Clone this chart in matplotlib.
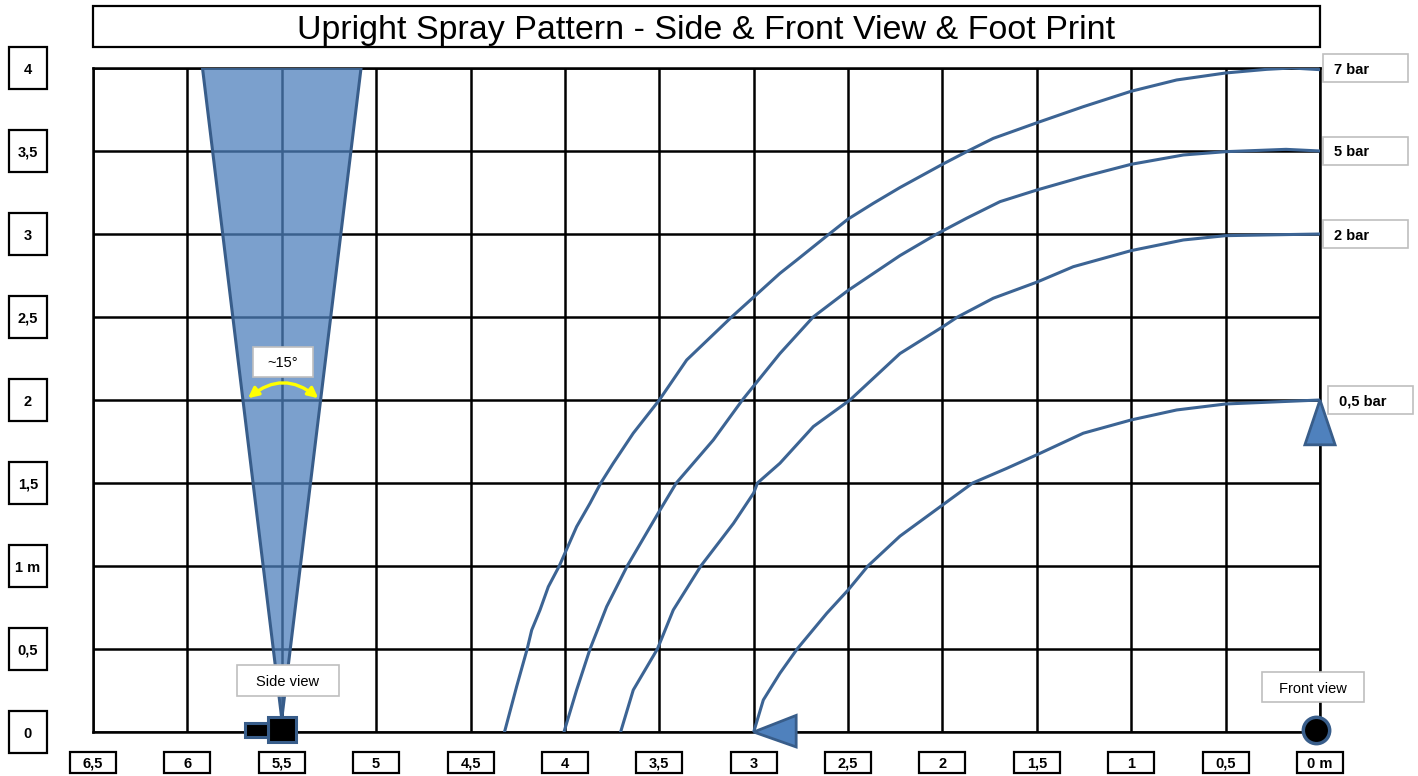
import matplotlib
matplotlib.use('Agg')
import matplotlib.pyplot as plt
from matplotlib.patches import Rectangle, Polygon, FancyArrowPatch
from matplotlib.transforms import blended_transform_factory

plt.rcParams['font.family'] = ['Liberation Sans', 'DejaVu Sans']

# ---------------- data ----------------
title = "Upright Spray Pattern - Side & Front View & Foot Print"

x_ticks = [6.5, 6.0, 5.5, 5.0, 4.5, 4.0, 3.5, 3.0, 2.5, 2.0, 1.5, 1.0, 0.5, 0.0]
x_tick_labels = ["6,5", "6", "5,5", "5", "4,5", "4", "3,5", "3", "2,5", "2", "1,5", "1", "0,5", "0 m"]
y_ticks = [0.0, 0.5, 1.0, 1.5, 2.0, 2.5, 3.0, 3.5, 4.0]
y_tick_labels = ["0", "0,5", "1 m", "1,5", "2", "2,5", "3", "3,5", "4"]

pressure_labels = ["7 bar", "5 bar", "2 bar", "0,5 bar"]
pressure_end_y = [4.0, 3.5, 3.0, 2.0]

bar7_x = [4.32, 4.256, 4.20, 4.176, 4.132, 4.088, 4.03, 3.938, 3.867, 3.81, 3.744, 3.638, 3.50,
          3.355, 3.117, 3.00, 2.861, 2.772, 2.60, 2.50, 2.366, 2.225, 2.00, 1.865,
          1.731, 1.50, 1.254, 1.00, 0.759, 0.50, 0.282, 0.15, 0.00]
bar7_y = [0.00, 0.273, 0.50, 0.614, 0.735, 0.875, 1.00, 1.237, 1.378, 1.50, 1.619, 1.80, 2.00,
          2.241, 2.50, 2.62, 2.763, 2.843, 3.00, 3.09, 3.185, 3.28, 3.42, 3.50,
          3.576, 3.67, 3.767, 3.86, 3.928, 3.97, 3.992, 4.00, 3.99]

bar5_x = [4.005, 3.938, 3.867, 3.779, 3.67, 3.50, 3.41, 3.214, 3.06, 2.861, 2.685, 2.50, 2.225,
          2.03, 1.872, 1.695, 1.50, 1.254, 1.00, 0.724, 0.50, 0.18, 0.00]
bar5_y = [0.00, 0.253, 0.50, 0.755, 1.00, 1.33, 1.50, 1.759, 2.00, 2.28, 2.50, 2.66, 2.87,
          3.00, 3.095, 3.195, 3.265, 3.345, 3.42, 3.476, 3.496, 3.51, 3.50]

bar2_x = [3.705, 3.638, 3.51, 3.426, 3.28, 3.107, 3.00, 2.98, 2.861, 2.684, 2.49, 2.225, 2.00,
          1.92, 1.731, 1.50, 1.307, 1.00, 0.724, 0.50, 0.00]
bar2_y = [0.00, 0.253, 0.50, 0.735, 1.00, 1.257, 1.44, 1.50, 1.619, 1.84, 2.00, 2.28, 2.44,
          2.50, 2.613, 2.71, 2.803, 2.90, 2.964, 2.99, 3.00]

bar05_x = [3.00, 2.949, 2.861, 2.77, 2.613, 2.50, 2.395, 2.225, 2.00, 1.84, 1.66, 1.50, 1.254,
           1.00, 0.759, 0.50, 0.00]
bar05_y = [0.00, 0.193, 0.354, 0.50, 0.715, 0.855, 1.00, 1.18, 1.367, 1.50, 1.588, 1.67, 1.80,
           1.88, 1.94, 1.976, 2.00]

curves_x = [bar7_x, bar5_x, bar2_x, bar05_x]
curves_y = [bar7_y, bar5_y, bar2_y, bar05_y]

cone_x = [5.92, 5.08, 5.50]
cone_y = [4.00, 4.00, 0.08]
angle_label = "~15°"
angle_left = (5.69, 2.0)
angle_right = (5.295, 2.0)

side_label = "Side view"
front_label = "Front view"

# ---------------- figure ----------------
W, H = 1418, 776
fig = plt.figure(figsize=(W / 100, H / 100), dpi=100)
ax = fig.add_axes([93 / W, 44 / H, 1227 / W, 664 / H])
ax.set_xlim(6.5, 0)
ax.set_ylim(0, 4)
ax.set_xticks(x_ticks)
ax.set_yticks(y_ticks)
ax.tick_params(length=0, labelbottom=False, labelleft=False)
ax.grid(True, color='black', lw=1.8)
ax.set_axisbelow(True)
for s in ax.spines.values():
    s.set_linewidth(1.8)
    s.set_color('black')

line_col = '#3c6494'
edge_col = '#385d8a'
fill_col = '#4f81bd'

# spray cone (side view)
ax.add_patch(Polygon(list(zip(cone_x, cone_y)), closed=True, facecolor=fill_col,
                     alpha=0.75, edgecolor='none', zorder=3))
ax.add_patch(Polygon(list(zip(cone_x, cone_y)), closed=True, facecolor='none',
                     edgecolor=edge_col, lw=2.2, zorder=3.1))

# spray curves
for cx, cy in zip(curves_x, curves_y):
    ax.plot(cx, cy, color=line_col, lw=2.2, zorder=4, solid_capstyle='round',
            solid_joinstyle='round')

# angle arrow
arr = FancyArrowPatch(angle_left, angle_right, connectionstyle="arc3,rad=-0.43",
                      arrowstyle='<|-|>', mutation_scale=15, color='#ffff00', lw=2.4, zorder=6)
ax.add_patch(arr)

def label_box(x0, x1, y0, y1, text, transform=None, fs=10.5, weight='normal',
              ec='#bfbfbf', lw=1.2, ha='center', tx=None):
    t = transform if transform is not None else ax.transData
    ax.add_patch(Rectangle((x0, y0), x1 - x0, y1 - y0, facecolor='white', edgecolor=ec,
                           lw=lw, transform=t, clip_on=False, zorder=7))
    xt = (x0 + x1) / 2 if tx is None else tx
    ax.text(xt, (y0 + y1) / 2, text, transform=t, ha=ha, va='center_baseline', fontsize=fs,
            fontweight=weight, zorder=8, clip_on=False)

label_box(5.652, 5.334, 2.139, 2.319, angle_label, fs=10.5)
label_box(5.737, 5.197, 0.217, 0.404, side_label, fs=10.5)
label_box(0.307, -0.233, 0.181, 0.361, front_label, fs=10.5)

# nozzle side view
ax.add_patch(Rectangle((5.425, -0.06), 0.148, 0.15, facecolor='black', edgecolor=edge_col,
                       lw=2.2, clip_on=False, zorder=9))
ax.add_patch(Rectangle((5.573, -0.03), 0.122, 0.084, facecolor='black', edgecolor=edge_col,
                       lw=2.2, clip_on=False, zorder=9))

# front view nozzle
ax.plot([0.021], [0.01], 'o', ms=19, mfc='black', mec=edge_col, mew=2.5, clip_on=False, zorder=9)

# triangles
ax.add_patch(Polygon([(0.0, 2.0), (0.08, 1.73), (-0.08, 1.73)], closed=True, facecolor=fill_col,
                     edgecolor=edge_col, lw=2, clip_on=False, zorder=9))
ax.add_patch(Polygon([(3.0, 0.0), (2.775, 0.10), (2.775, -0.09)], closed=True, facecolor=fill_col,
                     edgecolor=edge_col, lw=2, clip_on=False, zorder=9))

# pressure labels
tr_ay = blended_transform_factory(ax.transAxes, ax.transData)
for lab, yv in zip(pressure_labels, pressure_end_y):
    if lab == "0,5 bar":
        x0, x1 = 1.0063, 1.0758
    else:
        x0, x1 = 1.0024, 1.0717
    label_box(x0, x1, yv - 0.084, yv + 0.084, lab, transform=tr_ay, fs=10.5,
              weight='bold', ha='left', tx=x0 + 0.009)

# x tick boxes
tr_xa = blended_transform_factory(ax.transData, ax.transAxes)
for xv, lab in zip(x_ticks, x_tick_labels):
    label_box(xv - 0.122, xv + 0.122, -0.0611, -0.0295, lab, transform=tr_xa, fs=10.5,
              weight='bold', ec='black', lw=1.6)

# y tick boxes
for yv, lab in zip(y_ticks, y_tick_labels):
    label_box(-0.0685, -0.0375, yv - 0.1235, yv + 0.1235, lab, transform=tr_ay, fs=10.5,
              weight='bold', ec='black', lw=1.6)

# title box
ax.add_patch(Rectangle((0, 1.0316), 1, 0.0618, facecolor='white', edgecolor='black', lw=1.6,
                       transform=ax.transAxes, clip_on=False, zorder=7))
ax.text(0.5, 1.0625, title, transform=ax.transAxes, ha='center', va='center_baseline',
        fontsize=24.5, zorder=8)

fig.savefig('out.png', dpi=100)
